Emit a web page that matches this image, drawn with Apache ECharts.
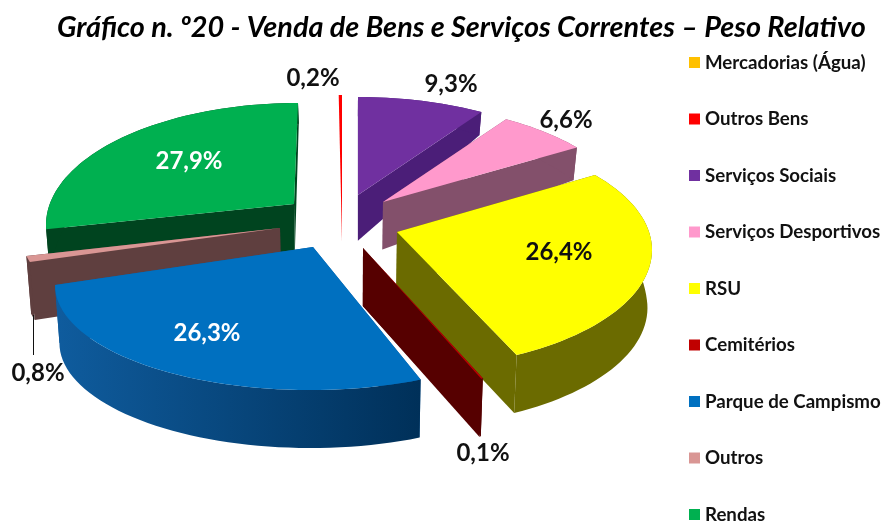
<!DOCTYPE html>
<html lang="pt">
<head>
  <meta charset="UTF-8">
  <title>Venda de Bens e Serviços Correntes</title>
  <style>
    html, body { margin: 0; background: #fff; }
    #chart { width: 887px; height: 525px; }
  </style>
</head>
<body>
  <div id="chart"></div>
  <script src="https://cdn.jsdelivr.net/npm/echarts@6/dist/echarts.min.js"></script>
  <script>
    // dados
    var categorias = ['Mercadorias (Água)', 'Outros Bens', 'Serviços Sociais', 'Serviços Desportivos', 'RSU', 'Cemitérios', 'Parque de Campismo', 'Outros', 'Rendas'];
    var pesos = [0, 0.2, 9.3, 6.6, 26.4, 0.1, 26.3, 0.8, 27.9];

    var coresTopo = ['#FFC000', '#FF0000', '#7030A0', '#FF99CC', '#FFFF00', '#C00000', '#0070C0', '#D99694', '#00B050'];
    // Outros Bens não mostra parede: é só o traço vermelho
    var coresLado = ['#7F6000', 'rgba(0,0,0,0)', '#4B1E78', '#83506B', '#6B6B00', '#560000', '#0F5C9E', '#5F3F3F', '#00441F'];
    var coresLadoFim = { 6: '#003059' };

    // ordem de desenho, de trás para a frente
    var ordem = [0, 1, 2, 3, 8, 7, 4, 5, 6];

    // geometria de cada fatia: vértice (cx, cy), elipse do bordo (ex, ey, rx, ry)
    // e correcção da perspectiva nos ângulos (a0, a1)
    var geometria = [
      null,
      { cx: 342, cy: 242, ex: 342, ey: 242, rx: 255, ry: 147, a0: 0, a1: 0 },
      { cx: 358, cy: 195, ex: 358, ey: 215, rx: 252, ry: 118, a0: 0, a1: -5 },
      { cx: 383, cy: 202, ex: 383, ey: 222, rx: 250, ry: 118, a0: -4.8, a1: -7.8 },
      { cx: 397, cy: 232, ex: 397, ey: 250, rx: 255, ry: 119, a0: -7.7, a1: -4 },
      { cx: 363, cy: 248, ex: 363, ey: 248, rx: 265, ry: 146, a0: -2.9, a1: -2.9 },
      { cx: 313, cy: 247, ex: 310, ey: 285, rx: 255, ry: 105, a0: -2.1, a1: 16.6 },
      { cx: 280, cy: 228, ex: 280, ey: 228, rx: 261, ry: 119, a0: 0, a1: 0 },
      { cx: 294, cy: 204, ex: 298, ey: 225, rx: 252, ry: 122, a0: 11.6, a1: 0.74 }
    ];

    // posição e cor dos rótulos
    var rotulos = [
      null,
      { x: 313, y: 78, cor: '#111' },
      { x: 451, y: 84, cor: '#111' },
      { x: 566, y: 120, cor: '#111' },
      { x: 559, y: 252, cor: '#111' },
      { x: 483, y: 453, cor: '#111' },
      { x: 207, y: 333, cor: '#fff' },
      { x: 38, y: 373, cor: '#111' },
      { x: 189, y: 161, cor: '#fff' }
    ];

    var anguloInicial = -0.74;
    var total = pesos.reduce(function (a, b) { return a + b; }, 0);

    function angulos(i) {
      var soma = 0;
      for (var k = 0; k < i; k++) soma += pesos[k];
      var ini = anguloInicial + soma / total * 360;
      return [ini, ini + pesos[i] / total * 360];
    }

    // altura da parede, maior à frente
    function altura(y) {
      return Math.min(58, 0.27 * y - 7);
    }

    function ponto(g, graus) {
      var r = graus * Math.PI / 180;
      return [g.ex + g.rx * Math.sin(r), g.ey - g.ry * Math.cos(r)];
    }

    function baixo(p) {
      return [p[0] + (350 - p[0]) * 0.015, p[1] + altura(p[1])];
    }

    function renderFatia(i) {
      return function (params, api) {
        if (!api.value(0)) return null;
        var g = geometria[i];
        var ang = angulos(i);
        var rim = [];
        var n = Math.max(2, Math.ceil((ang[1] - ang[0]) / 2));
        for (var k = 0; k <= n; k++) {
          var t = k / n;
          rim.push(ponto(g, ang[0] + (ang[1] - ang[0]) * t + g.a0 + (g.a1 - g.a0) * t));
        }
        var apex = [g.cx, g.cy];
        var apexB = baixo(apex);
        var ladoFill = coresLado[i];
        if (coresLadoFim[i]) {
          // o degradé do Campismo escurece para a direita
          ladoFill = {
            type: 'linear', x: 1, y: 0, x2: 0, y2: 0,
            colorStops: [{ offset: 0, color: coresLadoFim[i] }, { offset: 1, color: coresLado[i] }]
          };
        }
        var filhos = [];
        var primeiro = rim[0], ultimo = rim[rim.length - 1];
        filhos.push({ type: 'polygon', shape: { points: [apex, primeiro, baixo(primeiro), apexB] }, style: { fill: coresLado[i] } });
        filhos.push({ type: 'polygon', shape: { points: [apex, ultimo, baixo(ultimo), apexB] }, style: { fill: coresLado[i] } });
        filhos.push({ type: 'polygon', shape: { points: rim.concat(rim.map(baixo).reverse()) }, style: { fill: ladoFill } });
        filhos.push({ type: 'polygon', shape: { points: [apex].concat(rim) }, style: { fill: coresTopo[i] } });
        if (categorias[i] === 'Outros') {
          filhos.push({ type: 'line', shape: { x1: 33.5, y1: 315, x2: 33.5, y2: 355 }, style: { stroke: '#111', lineWidth: 1 } });
        }
        var rot = rotulos[i];
        filhos.push({
          type: 'text',
          style: {
            x: rot.x, y: rot.y,
            text: api.value(0).toFixed(1).replace('.', ',') + '%',
            align: 'center', verticalAlign: 'middle',
            fill: rot.cor,
            font: 'bold 24px Lato'
          }
        });
        return { type: 'group', children: filhos };
      };
    }

    var series = categorias.map(function (nome, i) {
      return {
        name: nome,
        type: 'custom',
        coordinateSystem: 'none',
        z: 2 + ordem.indexOf(i),
        silent: true,
        itemStyle: { color: coresTopo[i] },
        data: [[pesos[i]]],
        renderItem: renderFatia(i)
      };
    });

    var chart = echarts.init(document.getElementById('chart'));
    chart.setOption({
      animation: false,
      title: {
        text: 'Gráfico n. º20 - Venda de Bens e Serviços Correntes – Peso Relativo',
        left: 52,
        top: 8,
        textStyle: { fontFamily: 'Lato', fontStyle: 'italic', fontWeight: 'bold', fontSize: 28.8, color: '#000' }
      },
      legend: {
        orient: 'vertical',
        left: 689,
        top: 53,
        padding: 0,
        itemWidth: 11,
        itemHeight: 11,
        itemGap: 37.5,
        icon: 'rect',
        selectedMode: false,
        data: categorias,
        textStyle: { fontFamily: 'Lato', fontWeight: 'bold', fontSize: 18.7, color: '#111' }
      },
      series: series
    });
  </script>
</body>
</html>
